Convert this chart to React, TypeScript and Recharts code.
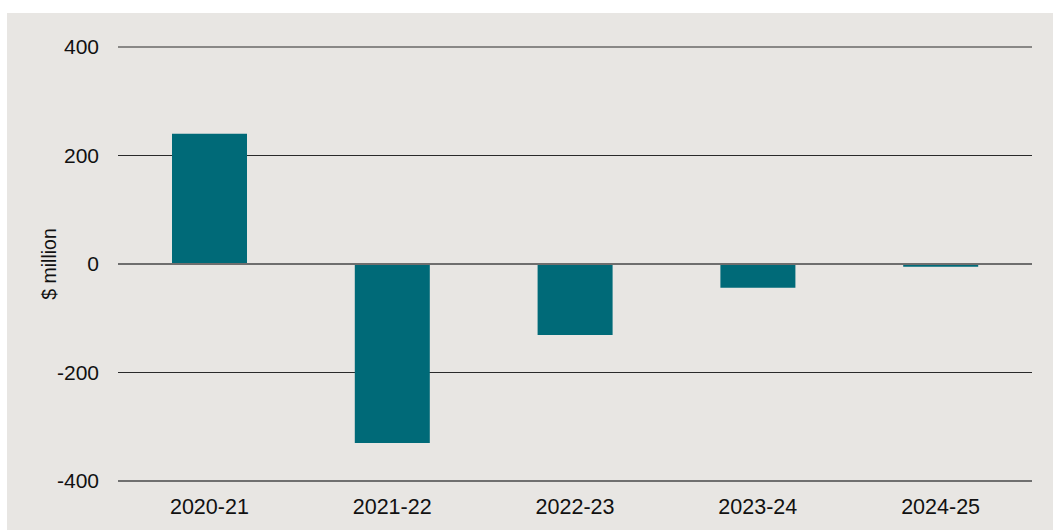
import React from 'react';
import { BarChart, Bar, XAxis, YAxis, CartesianGrid, ReferenceLine, Label } from 'recharts';

const years = ['2020-21', '2021-22', '2022-23', '2023-24', '2024-25'];
const values = [240, -330, -131, -44, -5];
const yTicks = [-400, -200, 0, 200, 400];

const data = years.map((year, i) => ({ year, value: values[i] }));

const FONT = '"Liberation Sans", Arial, sans-serif';

export default function App() {
  return (
    <div
      style={{
        position: 'absolute',
        left: 7,
        top: 13,
        width: 1046,
        height: 517,
        background: '#e8e6e3',
      }}
    >
      <BarChart
        width={1046}
        height={517}
        data={data}
        margin={{ top: 34, right: 21, left: 0, bottom: 0 }}
      >
        <CartesianGrid horizontal vertical={false} stroke="#2a2a2a" strokeWidth={1} />
        <XAxis
          dataKey="year"
          height={49}
          tickLine={false}
          axisLine={{ stroke: '#707070', strokeWidth: 2 }}
          tickMargin={12}
          tick={{ fill: '#111', fontSize: 21.5, fontFamily: FONT }}
        />
        <YAxis
          width={111}
          domain={[-400, 400]}
          ticks={yTicks}
          axisLine={false}
          tickLine={false}
          tickMargin={13}
          tick={{ fill: '#111', fontSize: 21, fontFamily: FONT }}
        >
          <Label
            value="$ million"
            angle={-90}
            position="center"
            dx={-13}
            style={{ fill: '#111', fontSize: 19.5, fontFamily: FONT }}
          />
        </YAxis>
        <Bar dataKey="value" fill="#006a78" barSize={75} isAnimationActive={false} />
        <ReferenceLine y={0} stroke="#6e6e6e" strokeWidth={2} />
      </BarChart>
    </div>
  );
}
